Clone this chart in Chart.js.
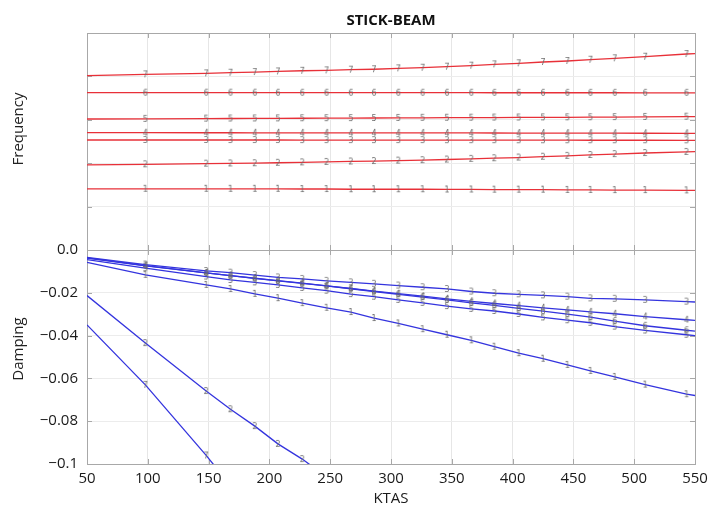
<!DOCTYPE html>
<html><head><meta charset="utf-8">
<script src="https://cdn.jsdelivr.net/npm/chart.js@4/dist/chart.umd.min.js"></script>
<style>html,body{margin:0;padding:0;background:#fff}#wrap{width:709px;height:506px}</style>
</head><body><div id="wrap"><canvas id="c" width="709" height="506"></canvas></div>
<script>
const chartTitle = 'STICK-BEAM';
const xTitle = 'KTAS';
const freqTitle = 'Frequency';
const dampTitle = 'Damping';
const modes = ['1','2','3','4','5','6','7'];
const ktas = [50, 98, 148, 168, 188, 207, 227, 247, 267, 286, 306, 326, 346, 366, 385, 405, 425, 445, 464, 484, 509, 543, 550];
const xTickLabels = ['50','100','150','200','250','300','350','400','450','500','550'];
const dampTickLabels = ['\u22120.1','\u22120.08','\u22120.06','\u22120.04','\u22120.02','0.0'];

const freq1 = [1.41,1.41,1.41,1.41,1.41,1.41,1.405,1.405,1.40,1.40,1.40,1.40,1.395,1.395,1.39,1.39,1.39,1.385,1.385,1.38,1.38,1.375,1.375];
const freq2 = [1.96,1.975,1.99,1.995,2.0,2.01,2.02,2.03,2.04,2.05,2.06,2.07,2.085,2.10,2.115,2.13,2.15,2.17,2.19,2.21,2.235,2.26,2.265];
const freq3 = [2.535,2.535,2.535,2.534,2.534,2.534,2.533,2.533,2.533,2.532,2.532,2.532,2.531,2.531,2.531,2.530,2.530,2.530,2.529,2.529,2.529,2.528,2.528];
const freq4 = [2.703,2.703,2.702,2.702,2.701,2.701,2.700,2.700,2.699,2.699,2.698,2.698,2.697,2.697,2.696,2.695,2.694,2.693,2.692,2.691,2.690,2.689,2.689];
const freq5 = [3.018,3.022,3.028,3.030,3.032,3.034,3.036,3.038,3.040,3.042,3.044,3.046,3.048,3.050,3.052,3.054,3.056,3.058,3.060,3.062,3.066,3.072,3.073];
const freq6 = [3.625,3.625,3.625,3.625,3.625,3.624,3.624,3.624,3.624,3.624,3.624,3.624,3.624,3.624,3.623,3.623,3.623,3.623,3.623,3.623,3.622,3.622,3.622];
const freq7 = [4.016,4.048,4.070,4.085,4.100,4.115,4.130,4.140,4.155,4.165,4.186,4.200,4.224,4.247,4.278,4.302,4.332,4.355,4.385,4.417,4.454,4.516,4.525];

const damp1 = [-0.0058,-0.0116,-0.0163,-0.0182,-0.0205,-0.0225,-0.0248,-0.0270,-0.0290,-0.0318,-0.0343,-0.0370,-0.0396,-0.0422,-0.0452,-0.0482,-0.0508,-0.0537,-0.0565,-0.0593,-0.0629,-0.0674,-0.0680];
const damp2 = [-0.0213,-0.0435,-0.0659,-0.0744,-0.0823,-0.0906,-0.0977,-0.1060,null,null,null,null,null,null,null,null,null,null,null,null,null,null,null];
const damp3 = [-0.0035,-0.0068,-0.0098,-0.0106,-0.0117,-0.0128,-0.0135,-0.0144,-0.0151,-0.0158,-0.0166,-0.0174,-0.0182,-0.0194,-0.0202,-0.0207,-0.0212,-0.0218,-0.0226,-0.0228,-0.0233,-0.0241,-0.0243];
const damp4 = [-0.0038,-0.0074,-0.0107,-0.0120,-0.0132,-0.0143,-0.0155,-0.0168,-0.0180,-0.0192,-0.0204,-0.0216,-0.0228,-0.0240,-0.0250,-0.0260,-0.0270,-0.0280,-0.0289,-0.0298,-0.0311,-0.0326,-0.0329];
const damp5 = [-0.0045,-0.0085,-0.0124,-0.0140,-0.0151,-0.0163,-0.0177,-0.0190,-0.0206,-0.0218,-0.0233,-0.0247,-0.0262,-0.0275,-0.0285,-0.0299,-0.0315,-0.0328,-0.0340,-0.0358,-0.0376,-0.0396,-0.0400];
const damp6 = [-0.0037,-0.0073,-0.0107,-0.0120,-0.0133,-0.0144,-0.0156,-0.0168,-0.0181,-0.0194,-0.0207,-0.0220,-0.0233,-0.0247,-0.0259,-0.0273,-0.0286,-0.0300,-0.0314,-0.0332,-0.0354,-0.0375,-0.0379];
const damp7 = [-0.0350,-0.0630,-0.0960,-0.1100,null,null,null,null,null,null,null,null,null,null,null,null,null,null,null,null,null,null,null];

const freqSeries = [freq1,freq2,freq3,freq4,freq5,freq6,freq7];
const dampSeries = [damp1,damp2,damp3,damp4,damp5,damp6,damp7];

const FONT = "'Open Sans', 'DejaVu Sans', sans-serif";
const RED = 'rgb(232,48,56)';
const BLUE = 'rgb(52,52,222)';
const FRAME = '#a8a8a8';

function digitImage(d) {
  const c = document.createElement('canvas');
  c.width = 8; c.height = 10;
  const g = c.getContext('2d');
  g.font = "8px 'DejaVu Sans', sans-serif";
  g.fillStyle = '#6e6e6e';
  g.textAlign = 'center';
  g.textBaseline = 'middle';
  g.fillText(d, 4, 5.5);
  return c;
}
const digitImgs = modes.map(digitImage);

function makeDataset(values, mode, idx, axis, color) {
  return {
    label: axis + ' mode ' + mode,
    data: ktas.map((x, i) => ({x: x, y: values[i]})),
    yAxisID: axis,
    borderColor: color,
    backgroundColor: color,
    borderWidth: 1.3,
    tension: 0,
    spanGaps: false,
    pointStyle: digitImgs[idx],
    pointRadius: (ctx) => (ctx.dataIndex === 0 || ctx.dataIndex === ktas.length - 1) ? 0 : 3,
    pointHoverRadius: (ctx) => (ctx.dataIndex === 0 || ctx.dataIndex === ktas.length - 1) ? 0 : 3
  };
}

const datasets = [];
freqSeries.forEach((s, i) => datasets.push(makeDataset(s, modes[i], i, 'yFreq', RED)));
dampSeries.forEach((s, i) => datasets.push(makeDataset(s, modes[i], i, 'yDamp', BLUE)));

const framePlugin = {
  id: 'frame',
  beforeDatasetsDraw(chart) {
    const ctx = chart.ctx;
    const x = chart.scales.x;
    const panels = [chart.scales.yFreq, chart.scales.yDamp];
    ctx.save();
    ctx.strokeStyle = FRAME;
    ctx.lineWidth = 1;
    const L = chart.chartArea.left, R = chart.chartArea.right;
    panels.forEach(p => {
      const T = p.top, B = p.bottom;
      ctx.strokeRect(Math.round(L) + 0.5, Math.round(T) + 0.5, Math.round(R - L), Math.round(B - T));
      ctx.beginPath();
      x.ticks.forEach(t => {
        const px = Math.round(x.getPixelForValue(t.value)) + 0.5;
        ctx.moveTo(px, T); ctx.lineTo(px, T + 5);
        ctx.moveTo(px, B); ctx.lineTo(px, B - 5);
      });
      p.ticks.forEach(t => {
        const py = Math.round(p.getPixelForValue(t.value)) + 0.5;
        ctx.moveTo(L, py); ctx.lineTo(L + 5, py);
        ctx.moveTo(R, py); ctx.lineTo(R - 5, py);
      });
      ctx.stroke();
    });
    ctx.restore();
  },
  afterDraw(chart) {
    const ctx = chart.ctx;
    ctx.save();
    ctx.fillStyle = '#222';
    ctx.font = "15px " + FONT;
    ctx.textAlign = 'center';
    ctx.textBaseline = 'middle';
    [[freqTitle, 129], [dampTitle, 349]].forEach(([t, y]) => {
      ctx.save();
      ctx.translate(19, y);
      ctx.rotate(-Math.PI / 2);
      ctx.fillText(t, 0, 0);
      ctx.restore();
    });
    ctx.restore();
  }
};

new Chart(document.getElementById('c'), {
  type: 'line',
  data: {datasets},
  plugins: [framePlugin],
  options: {
    responsive: false,
    animation: false,
    devicePixelRatio: 1,
    events: [],
    layout: {padding: {left: 0, right: 14, top: 0, bottom: 0}},
    plugins: {
      legend: {display: false},
      tooltip: {enabled: false},
      title: {display: true, text: chartTitle, fullSize: false, color: '#111',
        font: {family: FONT, size: 15, weight: 'bold'}, padding: {top: 12, bottom: 3}}
    },
    scales: {
      x: {
        type: 'linear', min: 50, max: 550,
        ticks: {stepSize: 50, padding: 6, color: '#1a1a1a', font: {family: FONT, size: 15},
          maxRotation: 0, autoSkip: false, callback: (v, i) => xTickLabels[i]},
        grid: {color: '#e6e6e6', drawTicks: false},
        border: {display: false},
        title: {display: true, text: xTitle, color: '#1a1a1a', font: {family: FONT, size: 15, lineHeight: 1}, padding: 0},
        afterFit(s) { s.height = 42; s.paddingLeft = 0; s.paddingRight = 0; }
      },
      yDamp: {
        type: 'linear', position: 'left', stack: 'panels', stackWeight: 214,
        min: -0.1, max: 0,
        ticks: {stepSize: 0.02, padding: 9, color: '#1a1a1a', font: {family: FONT, size: 15},
          callback: (v, i) => dampTickLabels[i]},
        grid: {color: '#ececec', drawTicks: false},
        border: {display: false},
        afterFit(s) { s.width = 87; s.paddingTop = 0; s.paddingBottom = 0; }
      },
      yFreq: {
        type: 'linear', position: 'left', stack: 'panels', stackWeight: 217,
        min: 0, max: 5,
        ticks: {display: false, stepSize: 1},
        grid: {color: '#ececec', drawTicks: false},
        border: {display: false},
        afterFit(s) { s.width = 87; s.paddingTop = 0; s.paddingBottom = 0; }
      }
    }
  }
});
</script>
</body></html>
